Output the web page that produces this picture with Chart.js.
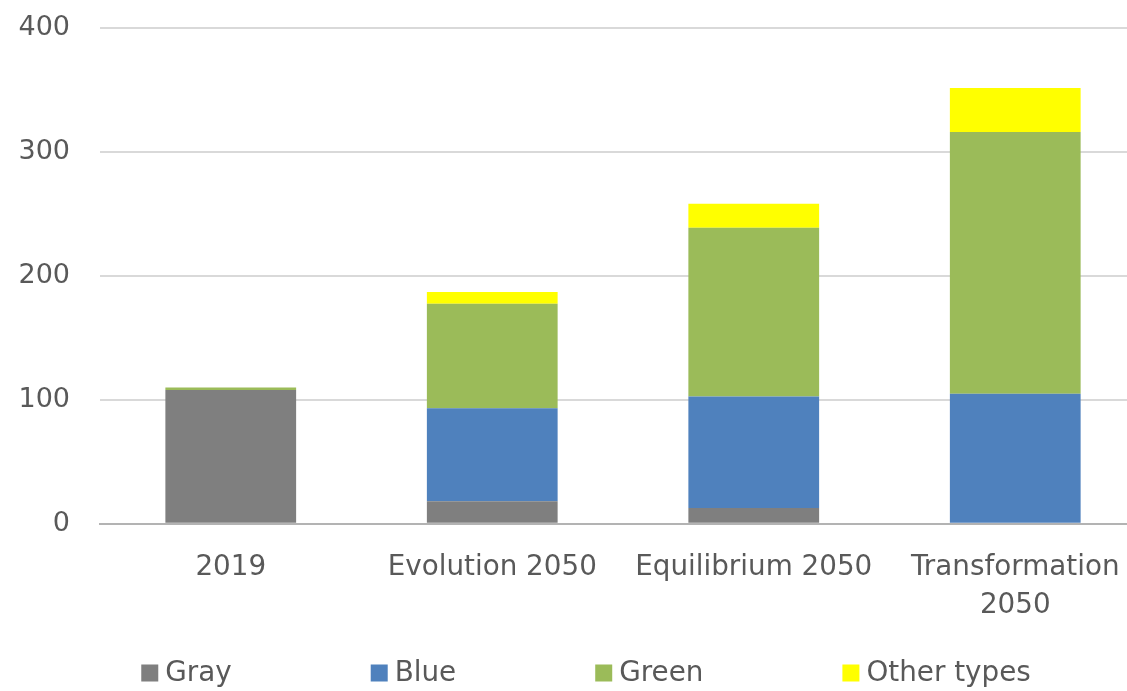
<!DOCTYPE html>
<html>
<head>
<meta charset="utf-8">
<script src="https://cdn.jsdelivr.net/npm/chart.js@4/dist/chart.umd.min.js"></script>
<style>
  html, body { margin: 0; padding: 0; background: #fff; overflow: hidden; }
  #wrap { position: relative; width: 1172px; height: 709px; margin-top: -18px; }
</style>
</head>
<body>
<div id="wrap"><canvas id="myChart"></canvas></div>
<script>
	'use strict';

	var categories = ['2019', 'Evolution 2050', 'Equilibrium 2050', ['Transformation', '2050']];
	var gray = [108, 18.3, 12.7, 0];
	var blue = [0, 75, 90, 105];
	var green = [2, 84.4, 136.3, 211.3];
	var otherTypes = [0, 9.4, 19.3, 35.5];
	var yTicks = [0, 100, 200, 300, 400];

	var textColor = '#595959';
	var fontFamily = '"DejaVu Sans", Verdana, sans-serif';

	// legend drawn by hand, Excel spaces the items far apart
	var spreadLegend = {
		id : 'spreadLegend',
		afterDraw : function(chart) {
			var ctx = chart.ctx;
			var box = 17, gap = 7, between = 139;
			var y = chart.height - 17;
			ctx.save();
			ctx.font = '27.8px ' + fontFamily;
			ctx.textBaseline = 'middle';
			ctx.textAlign = 'left';
			var sets = chart.data.datasets;
			var total = 0;
			sets.forEach(function(ds, i) {
				total += box + gap + ctx.measureText(ds.label).width;
				if (i > 0) total += between;
			});
			var x = chart.width / 2 - total / 2;
			sets.forEach(function(ds) {
				ctx.fillStyle = ds.backgroundColor;
				ctx.fillRect(x, y - box / 2 - 1, box, box);
				ctx.fillStyle = textColor;
				ctx.fillText(ds.label, x + box + gap, y);
				x += box + gap + ctx.measureText(ds.label).width + between;
			});
			ctx.restore();
		}
	};

	var ctx = document.getElementById('myChart');

	var myChart = new Chart(ctx, {
		type : 'bar',
		data : {
			labels : categories,
			datasets : [{
				label : 'Gray',
				data : gray,
				backgroundColor : '#7f7f7f'
			}, {
				label : 'Blue',
				data : blue,
				backgroundColor : '#4f81bd'
			}, {
				label : 'Green',
				data : green,
				backgroundColor : '#9bbb59'
			}, {
				label : 'Other types',
				data : otherTypes,
				backgroundColor : '#ffff00'
			}]
		},
		options : {
			responsive : true,
			maintainAspectRatio : false,
			animation : false,
			layout : {
				padding : { left : 18, right : 26, top : 11, bottom : 41 }
			},
			datasets : {
				bar : {
					barPercentage : 0.5,
					categoryPercentage : 1.0,
					borderWidth : 0
				}
			},
			plugins : {
				legend : { display : false },
				tooltip : { enabled : false }
			},
			scales : {
				x : {
					stacked : true,
					grid : { display : false, drawTicks : false },
					border : { color : '#b3b3b3', width : 2 },
					ticks : {
						color : textColor,
						padding : 25,
						maxRotation : 0,
						autoSkip : false,
						font : { family : fontFamily, size : 27.8, lineHeight : 1.37 }
					}
				},
				y : {
					stacked : true,
					min : 0,
					max : 400,
					afterBuildTicks : function(axis) {
						axis.ticks = yTicks.map(function(v) { return { value : v }; });
					},
					afterFit : function(axis) {
						axis.width = 82;
					},
					grid : { color : '#d9d9d9', lineWidth : 2, drawTicks : false },
					border : { display : false },
					ticks : {
						color : textColor,
						padding : 30,
						font : { family : fontFamily, size : 27 }
					}
				}
			}
		},
		plugins : [spreadLegend]
	});
</script>
</body>
</html>
